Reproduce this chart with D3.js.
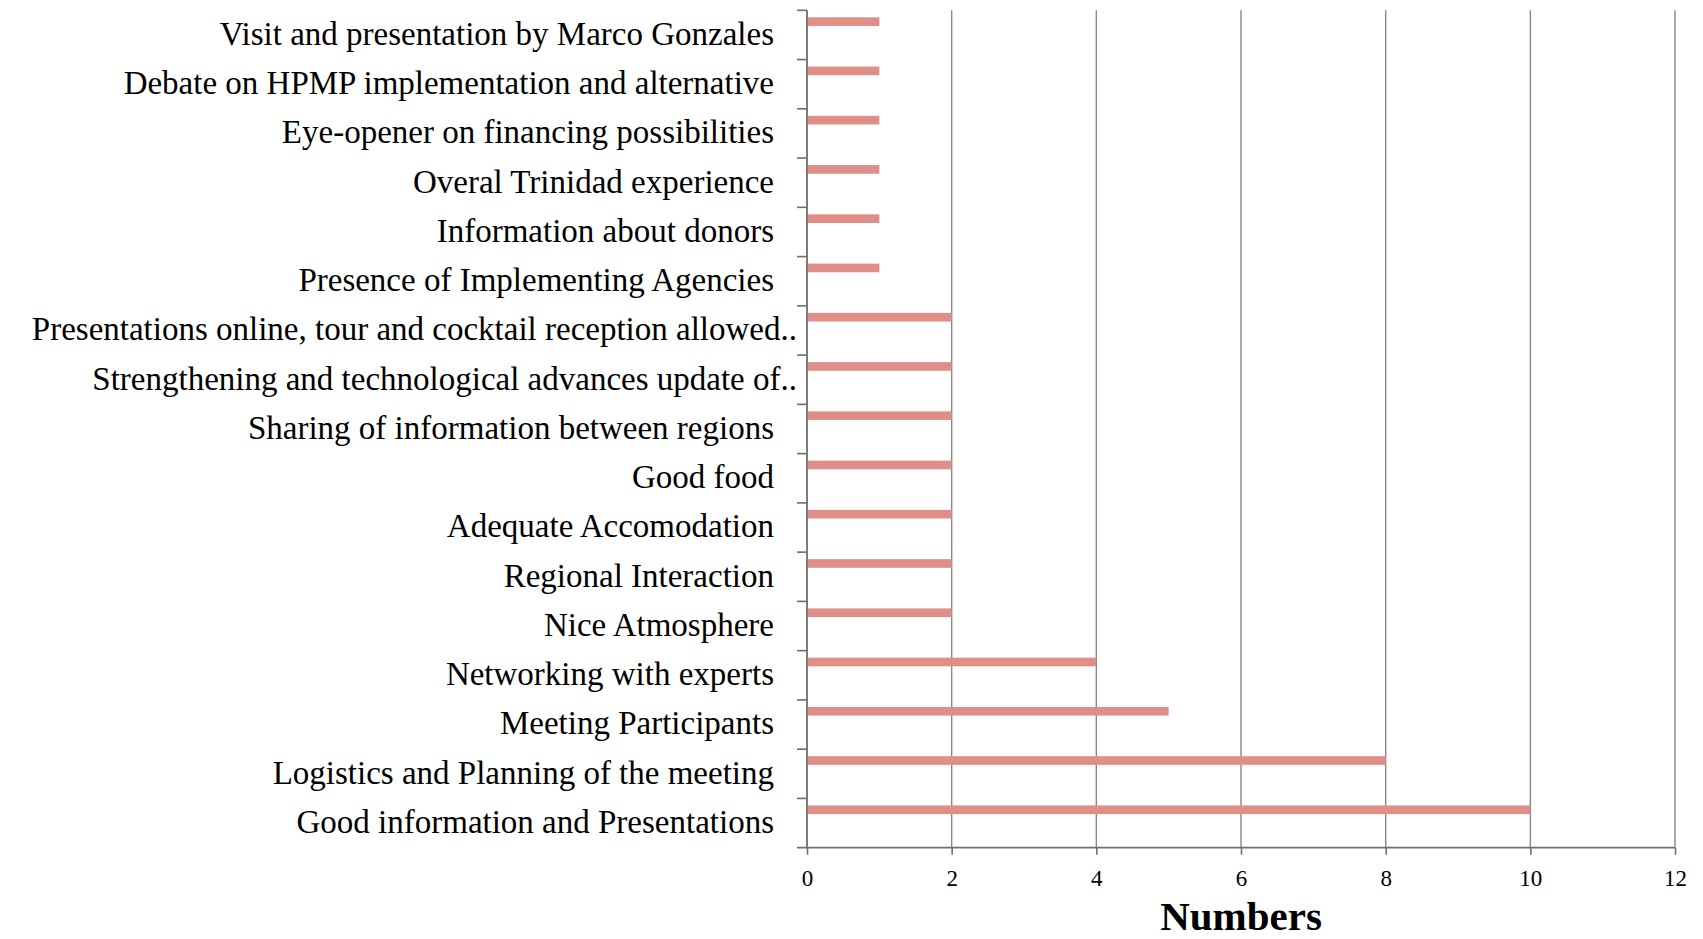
<!DOCTYPE html>
<html>
<head>
<meta charset="utf-8">
<script src="https://cdn.jsdelivr.net/npm/d3@7"></script>
<style>
  html, body { margin: 0; padding: 0; background: #fff; }
  svg { display: block; }
</style>
</head>
<body>
<svg id="chart" width="1703" height="939"></svg>
<script>
const categories = [
  "Visit and presentation by Marco Gonzales",
  "Debate on HPMP implementation and alternative",
  "Eye-opener on financing possibilities",
  "Overal Trinidad experience",
  "Information about donors",
  "Presence of Implementing Agencies",
  "Presentations online, tour and cocktail reception allowed..",
  "Strengthening and technological advances update of..",
  "Sharing of information between regions",
  "Good food",
  "Adequate Accomodation",
  "Regional Interaction",
  "Nice Atmosphere",
  "Networking with experts",
  "Meeting Participants",
  "Logistics and Planning of the meeting",
  "Good information and Presentations"
];
const values = [1, 1, 1, 1, 1, 1, 2, 2, 2, 2, 2, 2, 2, 4, 5, 8, 10];
const truncated = [false, false, false, false, false, false, true, true, false, false, false, false, false, false, false, false, false];
const xTicks = [0, 2, 4, 6, 8, 10, 12];
const xTitle = "Numbers";

(function () {
const svg = d3.select("#chart");
const pLeft = 807, pRight = 1675, pTop = 10.3, pBottom = 847.7;

const x = d3.scaleLinear().domain([0, 12]).range([pLeft, pRight]);
const y = d3.scaleBand().domain(categories).range([pTop, pBottom]).padding(0);
const bw = y.bandwidth();

// gridlines
svg.append("g").selectAll("line")
  .data(xTicks.filter(d => d > 0))
  .join("line")
  .attr("x1", d => x(d)).attr("x2", d => x(d))
  .attr("y1", pTop).attr("y2", pBottom)
  .attr("stroke", "#878787").attr("stroke-width", 1.4);

// bars
svg.append("g").selectAll("rect")
  .data(categories)
  .join("rect")
  .attr("x", x(0) + 0.8)
  .attr("y", d => y(d) + bw * 0.142)
  .attr("width", (d, i) => x(values[i]) - x(0) - 0.8)
  .attr("height", bw * 0.176)
  .attr("fill", "#e08f88");

// x axis
const xAxis = d3.axisBottom(x).tickValues(xTicks).tickSize(7).tickPadding(15).tickFormat(d3.format("d"));
const gx = svg.append("g").attr("transform", `translate(0,${pBottom})`).call(xAxis);
gx.select(".domain").remove();
gx.selectAll(".tick line").attr("stroke", "#6e6e6e").attr("stroke-width", 1.6);
gx.selectAll(".tick text")
  .attr("font-family", "'Liberation Serif', 'Times New Roman', serif")
  .attr("font-size", 23).attr("fill", "#000");
svg.append("line")
  .attr("x1", pLeft - 10).attr("x2", pRight)
  .attr("y1", pBottom).attr("y2", pBottom)
  .attr("stroke", "#6e6e6e").attr("stroke-width", 1.8);

// y axis line and ticks at band boundaries
svg.append("line")
  .attr("x1", pLeft).attr("x2", pLeft)
  .attr("y1", pTop).attr("y2", pBottom)
  .attr("stroke", "#6e6e6e").attr("stroke-width", 1.8);
svg.append("g").selectAll("line")
  .data(categories)
  .join("line")
  .attr("x1", pLeft - 10).attr("x2", pLeft)
  .attr("y1", d => y(d)).attr("y2", d => y(d))
  .attr("stroke", "#6e6e6e").attr("stroke-width", 1.6);

// category labels
svg.append("g").selectAll("text")
  .data(categories)
  .join("text")
  .attr("x", (d, i) => truncated[i] ? 797 : 774)
  .attr("y", d => y(d) + bw / 2)
  .attr("dy", "0.3em")
  .attr("text-anchor", "end")
  .attr("font-family", "'Liberation Serif', 'Times New Roman', serif")
  .attr("font-size", 33)
  .attr("fill", "#000")
  .text(d => d);

// x title
svg.append("text")
  .attr("x", x(6))
  .attr("y", 930)
  .attr("text-anchor", "middle")
  .attr("font-family", "'Liberation Serif', 'Times New Roman', serif")
  .attr("font-weight", "bold")
  .attr("font-size", 41)
  .attr("fill", "#000")
  .text(xTitle);
})();
</script>
</body>
</html>
